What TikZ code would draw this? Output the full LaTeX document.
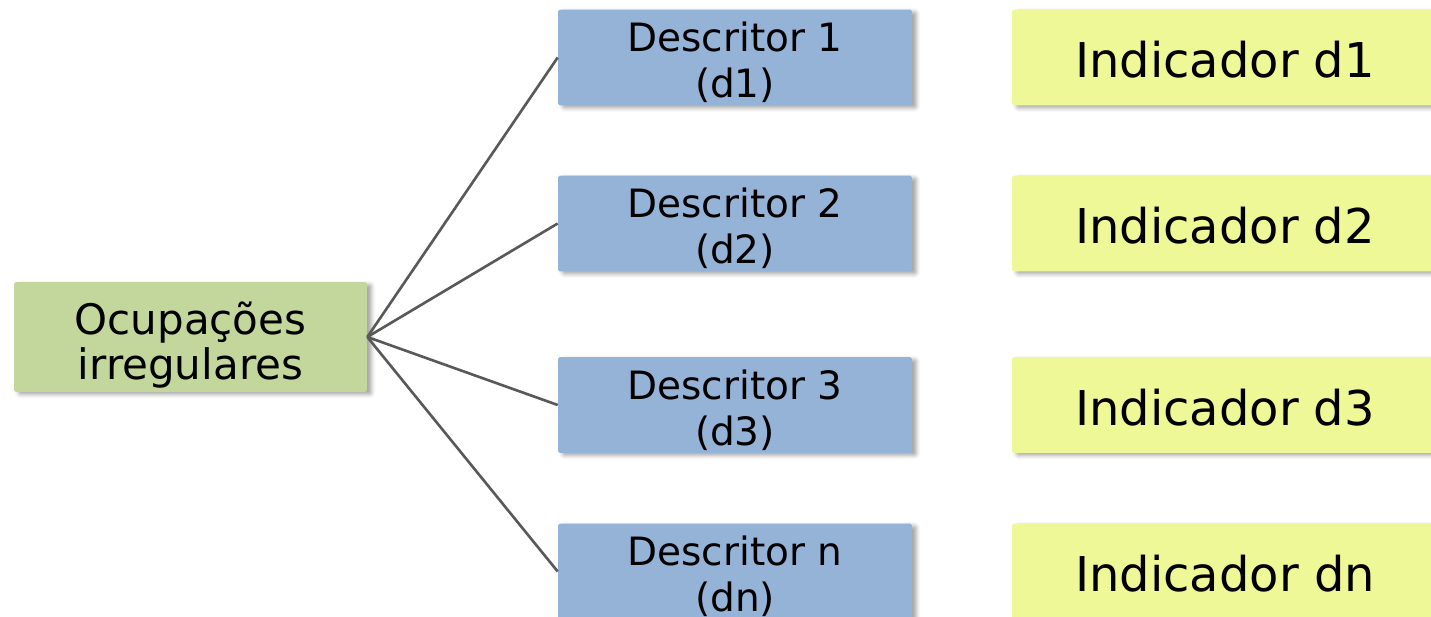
\documentclass[tikz,border=0pt]{standalone}
\usepackage{fontspec}
\setmainfont{DejaVu Sans}
\usetikzlibrary{shadows.blur}
\definecolor{ocupcolor}{HTML}{C3D69B}
\definecolor{desccolor}{HTML}{95B3D7}
\definecolor{indcolor}{HTML}{EFF896}
\definecolor{linkcolor}{HTML}{595959}
\tikzset{
  box/.style={rounded corners=1pt, inner sep=0pt, align=center,
    blur shadow={shadow xshift=0.09cm, shadow yshift=-0.05cm,
      shadow blur radius=0.08cm, shadow opacity=35}},
  ocupbox/.style={box, fill=ocupcolor, minimum width=7.06cm, minimum height=2.2cm,
    font=\fontsize{23.9}{25.6}\selectfont, text height=53pt},
  descbox/.style={box, fill=desccolor, minimum width=7.08cm, minimum height=1.92cm,
    font=\fontsize{22.2}{26.2}\selectfont, text height=48.8pt},
  indbox/.style={box, fill=indcolor, minimum width=8.52cm, minimum height=1.92cm,
    font=\fontsize{27.3}{30}\selectfont, text height=23pt, text depth=0pt},
  link/.style={draw=linkcolor, line width=1.5pt}
}
\begin{document}
\begin{tikzpicture}[x=0.02cm, y=-0.02cm]
  \useasboundingbox (0,0) rectangle (1431,617);
  \clip (0,0) rectangle (1431,617);

  \node[ocupbox] (ocup) at (190.5,337) {Ocupações\\irregulares};

  % descritores e indicadores
  \foreach \i/\lab/\y in {1/1/57.5, 2/2/223.5, 3/3/405, 4/n/571.5} {
    \node[descbox] (d\i) at (735,\y) {Descritor \lab\\(d\lab)};
    \node[indbox] (ind\i) at (1225,\y) {Indicador d\lab};
  }

  \foreach \i in {1,...,4}
    \draw[link] (ocup.east) -- (d\i.west);
\end{tikzpicture}
\end{document}
